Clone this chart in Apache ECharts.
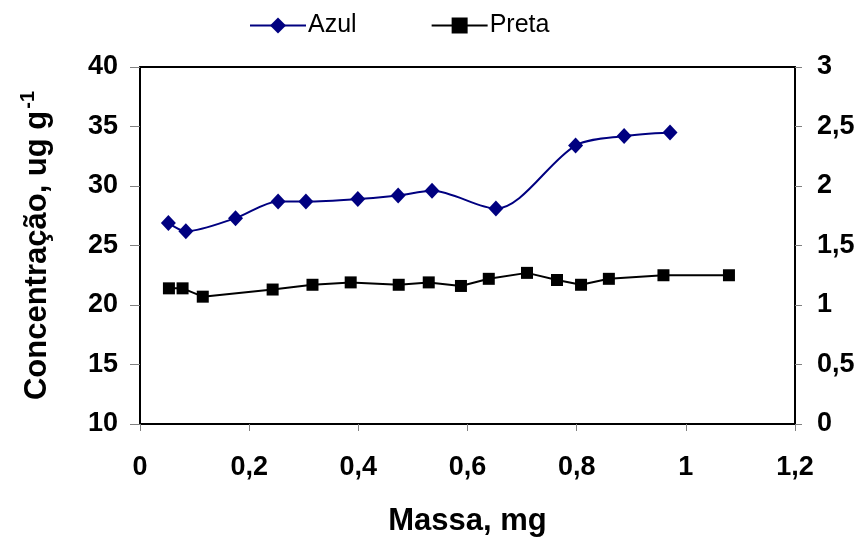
<!DOCTYPE html>
<html>
<head>
<meta charset="utf-8">
<script src="https://cdn.jsdelivr.net/npm/echarts@6/dist/echarts.min.js"></script>
<style>
  html, body { margin: 0; padding: 0; background: #fff; }
  #chart { width: 864px; height: 542px; }
</style>
</head>
<body>
<div id="chart"></div>
<script>
// Massa (mg) e concentração para cada série
const azulMassa = [0.052, 0.084, 0.175, 0.253, 0.304, 0.399, 0.473, 0.535, 0.652, 0.798, 0.887, 0.971];
const azulConc  = [26.9, 26.2, 27.3, 28.7, 28.7, 28.9, 29.2, 29.6, 28.1, 33.4, 34.2, 34.5];

const pretaMassa = [0.053, 0.078, 0.115, 0.243, 0.316, 0.386, 0.474, 0.529, 0.588, 0.639, 0.709, 0.764, 0.808, 0.859, 0.959, 1.079];
const pretaConc  = [1.14, 1.14, 1.07, 1.13, 1.17, 1.19, 1.17, 1.19, 1.16, 1.22, 1.27, 1.21, 1.17, 1.22, 1.25, 1.25];

const seriesNames = ['Azul', 'Preta'];
const xTitle = 'Massa, mg';
const yTitle = 'Concentração, ug g';
const yTitleSup = '-1';

const FONT = 'Liberation Sans, Arial, sans-serif';
const comma = v => String(v).replace('.', ',');

const chart = echarts.init(document.getElementById('chart'), null, { renderer: 'canvas' });

const tickLabel = { fontFamily: FONT, fontWeight: 'bold', fontSize: 27, color: '#000' };

chart.setOption({
  animation: false,
  backgroundColor: '#fff',
  legend: {
    top: 8,
    left: 244,
    itemWidth: 56,
    itemHeight: 20,
    itemGap: 74,
    textStyle: { fontFamily: FONT, fontSize: 25, color: '#000', padding: [0, 0, 0, -3] },
    data: seriesNames
  },
  grid: { left: 140, right: 69, top: 67, bottom: 111 },
  xAxis: [{
    type: 'value',
    min: 0, max: 1.2, interval: 0.2,
    name: xTitle,
    nameLocation: 'middle',
    nameGap: 82,
    nameTextStyle: { fontFamily: FONT, fontWeight: 'bold', fontSize: 31, color: '#000' },
    axisLine: { onZero: false, lineStyle: { color: '#000', width: 2 } },
    axisTick: { length: 7, lineStyle: { color: '#808080', width: 1 } },
    axisLabel: Object.assign({ margin: 30, formatter: comma }, tickLabel),
    splitLine: { show: false }
  }, {
    type: 'value',
    position: 'top',
    min: 0, max: 1.2,
    axisLine: { onZero: false, lineStyle: { color: '#000', width: 2 } },
    axisTick: { show: false },
    axisLabel: { show: false },
    splitLine: { show: false }
  }],
  yAxis: [{
    type: 'value',
    min: 10, max: 40, interval: 5,
    name: '{t|' + yTitle + '}{s|' + yTitleSup + '}',
    nameLocation: 'middle',
    nameRotate: 90,
    nameGap: 84,
    nameTextStyle: {
      rich: {
        t: { fontFamily: FONT, fontWeight: 'bold', fontSize: 31, color: '#000' },
        s: { fontFamily: FONT, fontWeight: 'bold', fontSize: 20, color: '#000', padding: [0, 0, 18, 2] }
      }
    },
    axisLine: { show: true, onZero: false, lineStyle: { color: '#000', width: 2 } },
    axisTick: { show: true, length: 10, lineStyle: { color: '#808080', width: 1 } },
    axisLabel: Object.assign({ margin: 22 }, tickLabel),
    splitLine: { show: false }
  }, {
    type: 'value',
    min: 0, max: 3, interval: 0.5,
    position: 'right',
    axisLine: { show: true, onZero: false, lineStyle: { color: '#000', width: 2 } },
    axisTick: { show: true, length: 7, lineStyle: { color: '#808080', width: 1 } },
    axisLabel: Object.assign({ margin: 22, formatter: comma }, tickLabel),
    splitLine: { show: false }
  }],
  series: [{
    name: seriesNames[0],
    type: 'line',
    xAxisIndex: 0,
    yAxisIndex: 0,
    smooth: 0.3,
    symbol: 'diamond',
    symbolSize: [15, 16],
    color: '#000080',
    lineStyle: { color: '#000080', width: 2 },
    itemStyle: { color: '#000080' },
    data: azulMassa.map((m, i) => [m, azulConc[i]])
  }, {
    name: seriesNames[1],
    type: 'line',
    xAxisIndex: 0,
    yAxisIndex: 1,
    symbol: 'rect',
    symbolSize: 12,
    color: '#000',
    lineStyle: { color: '#000', width: 2 },
    itemStyle: { color: '#000' },
    data: pretaMassa.map((m, i) => [m, pretaConc[i]])
  }]
});
</script>
</body>
</html>
